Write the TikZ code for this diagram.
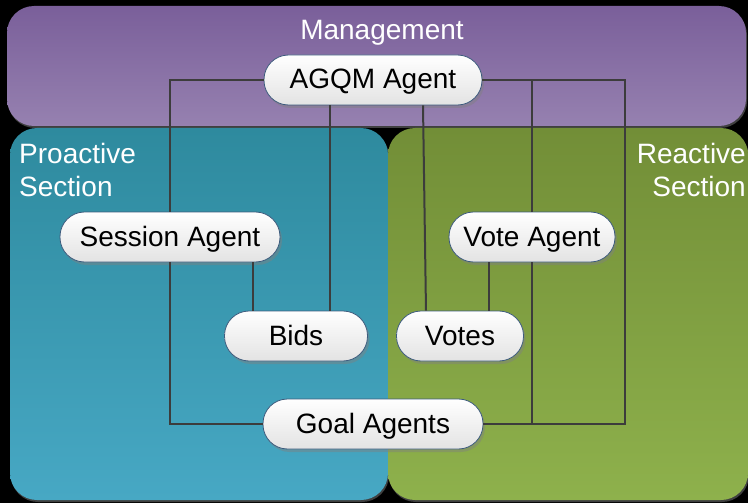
\documentclass[tikz,border=0pt]{standalone}
\usepackage{fontspec}
\setmainfont{Liberation Sans}
\usetikzlibrary{shadows}

\definecolor{mgmtTop}{HTML}{7A5F9A}
\definecolor{mgmtBot}{HTML}{9681B0}
\definecolor{proTop}{HTML}{2E8A9E}
\definecolor{proBot}{HTML}{47A8C4}
\definecolor{reTop}{HTML}{728E37}
\definecolor{reBot}{HTML}{8EB14C}
\definecolor{wire}{HTML}{3C3C3C}
\definecolor{rim}{HTML}{3E5C7E}

\tikzset{
  % ----- the three section panels
  panel/.style={
    rounded corners=27pt,
    drop shadow={opacity=0.5, shadow xshift=1pt, shadow yshift=-2pt},
  },
  mgmt/.style = {panel, top color=mgmtTop, bottom color=mgmtBot},
  proactive/.style = {panel, top color=proTop, bottom color=proBot},
  reactive/.style = {panel, top color=reTop, bottom color=reBot},
  % ----- the agents and the stores
  agent/.style={
    rectangle, rounded corners=24.5pt, draw=rim, line width=0.8pt,
    top color=white, bottom color=black!11,
    minimum height=50pt, inner sep=0pt,
    text height=22pt, text depth=4pt,
    font=\fontsize{28}{33}\selectfont,
    drop shadow={opacity=0.45, shadow xshift=2pt, shadow yshift=-3pt},
  },
}

\begin{document}
\begin{tikzpicture}[
                x = 1pt, % one pixel of the sketch
                y = -1pt, % rows run downwards
                line join = miter
            ]
        \tikzstyle{link} = [draw=wire, line width=2pt]
        \tikzstyle{annot} = [text=white, inner sep=0pt, font=\fontsize{28}{33}\selectfont]

        \fill[black] (0,0) rectangle (748,503);
        \useasboundingbox (0,0) rectangle (748,503);

        % panels
        \path[mgmt] (7,6) rectangle (746,126);
        \path[proactive] (10,128) rectangle (388,500);
        \path[reactive] (388,128) rectangle (748,500);

        \node[annot] (mgmtLbl) at (382,33) {Management};
        \node[annot, anchor=north west, align=left] (proLbl) at (19,143) {Proactive\\Section};
        \node[annot, anchor=north east, align=right] (reLbl) at (746,143) {Reactive\\Section};

        % agents
        \node[agent, minimum width=218pt] (AGQM) at (373,80) {AGQM Agent};
        \node[agent, minimum width=220pt] (Sess) at (170,237) {Session Agent};
        \node[agent, minimum width=166pt] (Vote) at (532,237) {Vote Agent};
        \node[agent, minimum width=143pt] (Bids) at (296,336) {Bids};
        \node[agent, minimum width=127pt] (Votes) at (460,336) {Votes};
        \node[agent, minimum width=220pt] (Goal) at (373,424) {Goal Agents};

        % outer wires
        \coordinate (rbus) at (625,80);
        \path[link] (AGQM) -| (Sess);
        \path[link] (Sess) |- (Goal);
        \path[link] (AGQM) -- (rbus) |- (Goal);
        \path[link] (Vote.north) -- (Vote.north |- AGQM.east);
        \path[link] (Vote.south) -- (Vote.south |- Goal.east);

        % straight drops from one node onto another
        \foreach \src/\dst/\dx in {AGQM/Bids/-43, Sess/Bids/83, Vote/Votes/-43}{
            \path[link] ([xshift=\dx]\src.south) -- ([xshift=\dx]\src.south |- \dst.north);
        }
        \path[link] ([xshift=50]AGQM.south) -- ([xshift=-34]Votes.north);
    \end{tikzpicture}
\end{document}
